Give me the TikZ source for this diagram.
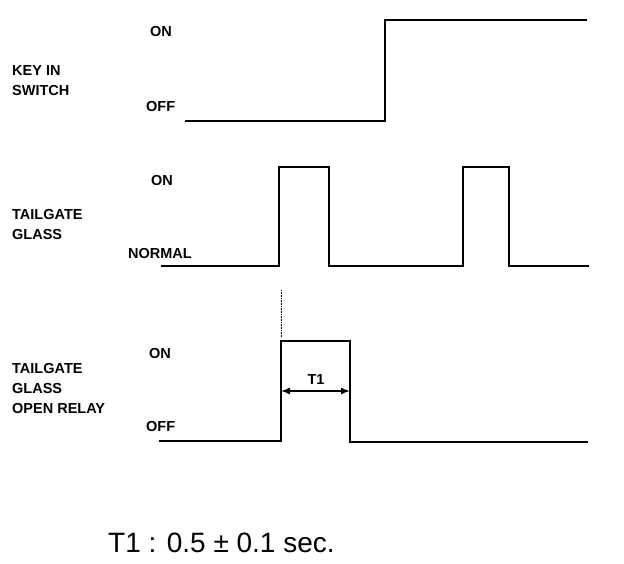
\documentclass[tikz,border=0pt]{standalone}
\usepackage{fontspec}
\setmainfont{Liberation Sans}
\usetikzlibrary{arrows.meta}

\begin{document}
\begin{tikzpicture}[
    x=1pt, y=-1pt,
    lbl/.style={anchor=west, inner sep=0pt, align=left, font=\fontsize{14.5}{20}\selectfont\bfseries},
    state/.style={anchor=west, inner sep=0pt, font=\fontsize{14.5}{18}\selectfont\bfseries},
    wave/.style={line width=1.7pt, line join=miter},
    guide/.style={densely dotted, line width=0.6pt},
    arrow/.style={{Latex[length=9pt,width=7pt]}-{Latex[length=9pt,width=7pt]}, line width=1.6pt}
]
\useasboundingbox (0,0) rectangle (624,564);

% key in switch
\node[lbl] (keyname) at (12,81) {KEY IN\\SWITCH};
\node[state] (keyon) at (150,32) {ON};
\node[state] (keyoff) at (146,107) {OFF};
\draw[wave] (185,121) -- (385,121) -- (385,20) -- (587,20);

% tailgate glass
\node[lbl] (glassname) at (12,225) {TAILGATE\\GLASS};
\node[state] (glasson) at (151,181) {ON};
\node[state] (glassnormal) at (128,254) {NORMAL};
\draw[wave] (161,266) -- (279,266) -- (279,167) -- (329,167) -- (329,266)
    -- (463,266) -- (463,167) -- (509,167) -- (509,266) -- (589,266);

% tailgate glass open relay
\node[lbl] (relayname) at (12,389) {TAILGATE\\GLASS\\OPEN RELAY};
\node[state] (relayon) at (149,354) {ON};
\node[state] (relayoff) at (146,427) {OFF};
\coordinate (rise) at (281,441);
\coordinate (fall) at (350,441);
\draw[wave] (159,441) -- (rise) -- (281,341) -- (350,341) -- (350,442) -- (588,442);
\draw[guide] (281,290) -- (281,337);

\coordinate (t1start) at (281,391);
\coordinate (t1end) at (350,391);
\draw[arrow] (t1start) -- (t1end);
\node[state, anchor=center] (t1) at (316,380) {T1};

\node[inner sep=0pt, anchor=west, font=\fontsize{28}{32}\selectfont] (note) at (108,543) {T1 : 0.5 ± 0.1 sec.};
\end{tikzpicture}
\end{document}
